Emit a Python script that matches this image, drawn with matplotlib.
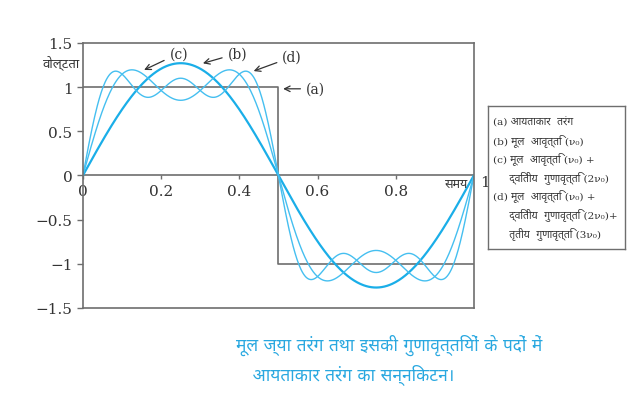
import numpy as np
import matplotlib
matplotlib.use("Agg")
import matplotlib.pyplot as plt
from matplotlib import font_manager as fm

# try to find a Devanagari font if one exists
deva = []
for f in fm.findSystemFonts():
    if "devanagari" in f.lower() or "lohit" in f.lower() or "mangal" in f.lower():
        try:
            fm.fontManager.addfont(f)
            deva.append(fm.FontProperties(fname=f).get_name())
        except Exception:
            pass
fams = ["DejaVu Serif"] + deva[:1] + ["DejaVu Sans"]
plt.rcParams["font.family"] = fams

# data
harmonics = [1, 3, 5]
amplitudes = [1.27, 0.42, 0.25]
square_t = [0, 0.5, 0.5, 1]
square_v = [1, 1, -1, -1]
yticks = [-1.5, -1, -0.5, 0, 0.5, 1, 1.5]
ytick_labels = ["\u22121.5", "\u22121", "\u22120.5", "0", "0.5", "1", "1.5"]
xticks = [0, 0.2, 0.4, 0.6, 0.8]
xtick_labels = ["0", "0.2", "0.4", "0.6", "0.8"]
legend_lines = [
    "(a) आयताकार  तरंग",
    "(b) मूल  आवृत्ति (ν₀)",
    "(c) मूल  आवृत्ति (ν₀) +",
    "     द्वितीय  गुणावृत्ति (2ν₀)",
    "(d) मूल  आवृत्ति (ν₀) +",
    "     द्वितीय  गुणावृत्ति (2ν₀)+",
    "     तृतीय  गुणावृत्ति (3ν₀)",
]
caption = "मूल ज्या तरंग तथा इसकी गुणावृत्तियों के पदों में\n   आयताकार तरंग का सन्निकटन।"

gray = "#6e6e6e"
blue = "#1aaee8"
light = "#45bff0"
txt = "#333333"

fig = plt.figure(figsize=(6.43, 4.14), dpi=100)
ax = fig.add_axes([0.129, 0.254, 0.608, 0.640])

t = np.linspace(0, 1, 600)
partial = np.zeros_like(t)
curves = []
for n, a in zip(harmonics, amplitudes):
    partial = partial + a * np.sin(2 * np.pi * n * t)
    curves.append(partial.copy())

ax.plot(square_t, square_v, color=gray, lw=1.2)
ax.axhline(0, color=gray, lw=1.2)
ax.plot(t, curves[0], color=blue, lw=1.6)
ax.plot(t, curves[1], color=light, lw=1.0)
ax.plot(t, curves[2], color=light, lw=1.0)

ax.set_xlim(0, 1)
ax.set_ylim(-1.5, 1.5)
for s in ax.spines.values():
    s.set_color(gray)
    s.set_linewidth(1.2)
ax.set_yticks(yticks)
ax.set_yticklabels(ytick_labels, fontsize=11)
ax.tick_params(axis="y", colors=gray, labelcolor=txt, length=4, width=1)
ax.set_xticks([])

# x ticks sit on the zero line
sec = ax.secondary_xaxis(0.5)
sec.set_alignment("bottom")
sec.spines["bottom"].set_visible(False)
sec.set_xticks(xticks)
sec.set_xticklabels(xtick_labels, fontsize=11)
sec.tick_params(colors=gray, labelcolor=txt, length=3, width=1, pad=3)

ax.text(1.015, 0, "1", transform=ax.get_yaxis_transform(), fontsize=11,
        color=txt, ha="left", va="top")
ax.text(0.985, -0.02, "समय", fontsize=9, color=txt, ha="right", va="top")
fig.text(0.125, 0.85, "वोल्टता", fontsize=9.5, color=txt, ha="right", va="center")

arrow = dict(arrowstyle="->", color=txt, lw=0.9)
ax.annotate("(c)", xy=(0.15, 1.18), xytext=(0.245, 1.38), fontsize=10, arrowprops=arrow,
            ha="center", va="center", color=txt)
ax.annotate("(b)", xy=(0.30, 1.26), xytext=(0.395, 1.38), fontsize=10, arrowprops=arrow,
            ha="center", va="center", color=txt)
ax.annotate("(d)", xy=(0.43, 1.17), xytext=(0.535, 1.34), fontsize=10, arrowprops=arrow,
            ha="center", va="center", color=txt)
ax.annotate("(a)", xy=(0.505, 0.98), xytext=(0.595, 0.98), fontsize=10, arrowprops=arrow,
            ha="center", va="center", color=txt)

# legend box
box_ax = fig.add_axes([0.759, 0.396, 0.213, 0.346])
box_ax.set_xticks([])
box_ax.set_yticks([])
for s in box_ax.spines.values():
    s.set_color(gray)
    s.set_linewidth(1.0)
ys = [0.89, 0.765, 0.64, 0.505, 0.38, 0.25, 0.115]
for y, line in zip(ys, legend_lines):
    box_ax.text(0.035, y, line, fontsize=7.5, color=txt, ha="left", va="center",
                transform=box_ax.transAxes)

fig.text(0.367, 0.13, caption, fontsize=12.5, color="#29a8e0", ha="left", va="center",
         linespacing=1.5)

fig.savefig("out.png", dpi=100)
